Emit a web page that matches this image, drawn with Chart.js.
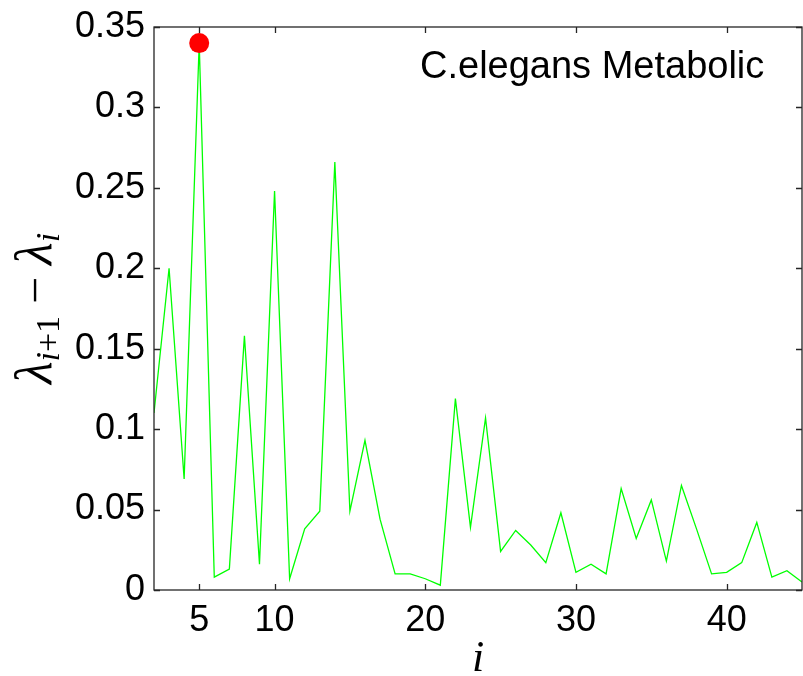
<!DOCTYPE html>
<html>
<head>
<meta charset="utf-8">
<script src="https://cdn.jsdelivr.net/npm/chart.js@4/dist/chart.umd.min.js"></script>
<style>
html,body{margin:0;padding:0;background:#fff;overflow:hidden;}
canvas{display:block;}
</style>
</head>
<body>
<canvas id="myChart" width="803" height="676"></canvas>
<script>
//Datos del grafico
const indices = [2,3,4,5,6,7,8,9,10,11,12,13,14,15,16,17,18,19,20,21,22,23,
  24,25,26,27,28,29,30,31,32,33,34,35,36,37,38,39,40,41,42,43,44,45];
const gaps = [0.110,0.200,0.069,0.340,0.008,0.013,0.158,0.016,0.248,0.007,0.038,0.049,
  0.266,0.049,0.093,0.044,0.010,0.010,0.007,0.003,0.119,0.039,0.107,0.024,0.037,0.028,
  0.017,0.048,0.011,0.016,0.010,0.063,0.032,0.056,0.018,0.065,0.038,0.010,0.011,0.017,
  0.042,0.008,0.012,0.005];
const peakIndex = [5];
const peakGap = [0.340];
const xTicks = [5,10,20,30,40];
const yTicks = [0,0.05,0.1,0.15,0.2,0.25,0.3,0.35];
const yTickLabels = ['0','0.05','0.1','0.15','0.2','0.25','0.3','0.35'];
const titulo = 'C.elegans Metabolic';

//Marco y ticks hacia adentro (estilo matlab)
const marco = {
  id: 'marco',
  afterDraw(chart){
    const ctx = chart.ctx;
    const a = chart.chartArea;
    const sx = chart.scales.x, sy = chart.scales.y;
    ctx.save();
    ctx.strokeStyle = '#262626';
    ctx.lineWidth = 1.3;
    ctx.strokeRect(a.left, a.top, a.right - a.left, a.bottom - a.top);
    ctx.beginPath();
    for (const v of xTicks){
      const px = Math.round(sx.getPixelForValue(v)) + 0.5;
      ctx.moveTo(px, a.bottom); ctx.lineTo(px, a.bottom - 6);
      ctx.moveTo(px, a.top); ctx.lineTo(px, a.top + 6);
    }
    for (const v of yTicks){
      const py = Math.round(sy.getPixelForValue(v)) + 0.5;
      ctx.moveTo(a.left, py); ctx.lineTo(a.left + 6, py);
      ctx.moveTo(a.right, py); ctx.lineTo(a.right - 6, py);
    }
    ctx.stroke();

    //texto de la red
    ctx.fillStyle = '#000';
    ctx.font = '38px "Liberation Sans", Arial, sans-serif';
    ctx.textAlign = 'left';
    ctx.textBaseline = 'alphabetic';
    ctx.fillText(titulo, a.left + 266, a.top + 51);

    //etiqueta eje x
    ctx.font = 'italic 44px "Liberation Serif", "DejaVu Serif", serif';
    ctx.textAlign = 'center';
    ctx.fillText('i', (a.left + a.right) / 2, 671);

    //etiqueta eje y con subindices
    const partes = [
      ['λ', 'italic 52px "Liberation Serif", serif', 0],
      ['i', 'italic 34px "Liberation Serif", serif', 8],
      ['+1', '34px "Liberation Serif", serif', 8],
      [' − ', '48px "Liberation Serif", serif', 0],
      ['λ', 'italic 52px "Liberation Serif", serif', 0],
      ['i', 'italic 34px "Liberation Serif", serif', 8]
    ];
    let total = 0;
    for (const p of partes){ ctx.font = p[1]; total += ctx.measureText(p[0]).width; }
    ctx.translate(51, (a.top + a.bottom) / 2);
    ctx.rotate(-Math.PI / 2);
    ctx.textAlign = 'left';
    let cx = -total / 2;
    for (const p of partes){
      ctx.font = p[1];
      ctx.fillText(p[0], cx, p[2]);
      cx += ctx.measureText(p[0]).width;
    }
    ctx.restore();
  }
};

let ctx = document.getElementById('myChart').getContext('2d');
let myChart = new Chart(ctx, {
  type: 'line',
  data: {
    datasets: [{
      label: 'pico',
      data: peakIndex.map((v, k) => ({x: v, y: peakGap[k]})),
      showLine: false,
      pointRadius: 10,
      pointBackgroundColor: '#ff0000',
      pointBorderWidth: 0,
      pointHoverRadius: 10
    }, {
      label: 'gap',
      data: indices.map((v, k) => ({x: v, y: gaps[k]})),
      borderColor: '#00ff00',
      borderWidth: 1.3,
      pointRadius: 0,
      tension: 0,
      fill: false
    }]
  },
  options: {
    responsive: false,
    animation: false,
    events: [],
    layout: {autoPadding: false, padding: {top: 27, right: 1, left: 0, bottom: 0}},
    plugins: {legend: {display: false}, tooltip: {enabled: false}},
    scales: {
      x: {
        type: 'linear',
        min: 2, max: 45,
        afterBuildTicks: s => { s.ticks = xTicks.map(v => ({value: v})); },
        afterFit: s => { s.height = 86; s.paddingLeft = 0; s.paddingRight = 0; },
        grid: {display: false, drawTicks: false},
        border: {display: false},
        ticks: {
          color: '#000', padding: 9, maxRotation: 0, autoSkip: false,
          font: {family: '"Liberation Sans", Arial, sans-serif', size: 36}
        }
      },
      y: {
        min: 0, max: 0.35,
        afterBuildTicks: s => { s.ticks = yTicks.map(v => ({value: v})); },
        afterFit: s => { s.width = 154; s.paddingTop = 0; s.paddingBottom = 0; },
        grid: {display: false, drawTicks: false},
        border: {display: false},
        ticks: {
          color: '#000', padding: 9, autoSkip: false,
          font: {family: '"Liberation Sans", Arial, sans-serif', size: 36},
          callback: (v, k) => yTickLabels[k]
        }
      }
    }
  },
  plugins: [marco]
});
</script>
</body>
</html>
